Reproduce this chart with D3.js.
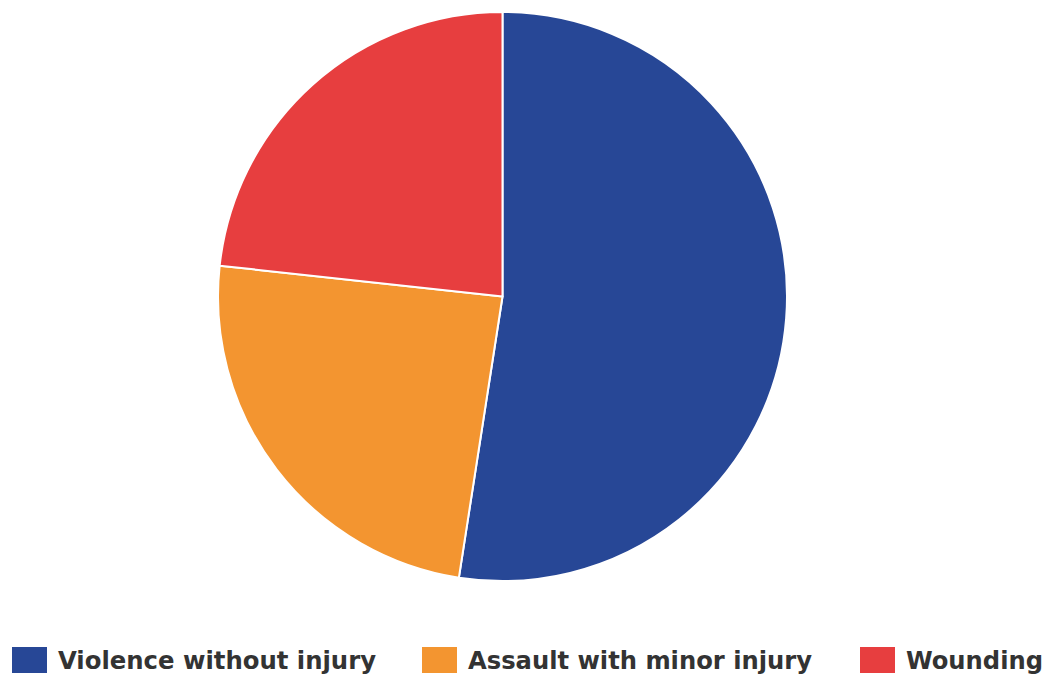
<!DOCTYPE html>
<html>
<head>
<meta charset="utf-8">
<script src="https://cdn.jsdelivr.net/npm/d3@7"></script>
<style>
  html, body { margin: 0; padding: 0; background: #fff; }
  svg { display: block; }
</style>
</head>
<body>
<svg id="chart" width="1047" height="675"></svg>
<script>
// Violent offence breakdown (share of total, %)
const categories = ["Violence without injury", "Assault with minor injury", "Wounding"];
const shares = [52.45, 24.28, 23.27];
const colors = ["#274796", "#F39530", "#E73E3F"];

const W = 1047, H = 675;
const cx = 502.5, cy = 296.5, radius = 284.5;

const svg = d3.select("#chart");

const pie = d3.pie().sort(null).value(d => d.value);
const arc = d3.arc().innerRadius(0).outerRadius(radius);

const data = categories.map((c, i) => ({ name: c, value: shares[i], color: colors[i] }));

svg.append("g")
  .attr("transform", `translate(${cx},${cy})`)
  .selectAll("path")
  .data(pie(data))
  .join("path")
  .attr("d", arc)
  .attr("fill", d => d.data.color)
  .attr("stroke", "#fff")
  .attr("stroke-width", 2)
  .attr("stroke-linejoin", "round");

// Legend along the bottom
const legendX = [12, 422, 860];
const legendW = [318, 344, 137];
const legend = svg.append("g");
const items = legend.selectAll("g")
  .data(data)
  .join("g")
  .attr("transform", (d, i) => `translate(${legendX[i]},647)`);

items.append("rect")
  .attr("width", 35)
  .attr("height", 26)
  .attr("fill", d => d.color);

items.append("text")
  .attr("x", 46)
  .attr("y", 21.5)
  .attr("font-family", "'DejaVu Sans Condensed', 'DejaVu Sans', sans-serif")
  .attr("font-weight", "bold")
  .attr("font-size", 25.5)
  .attr("fill", "#333")
  .attr("textLength", (d, i) => legendW[i])
  .attr("lengthAdjust", "spacingAndGlyphs")
  .text(d => d.name);
</script>
</body>
</html>
